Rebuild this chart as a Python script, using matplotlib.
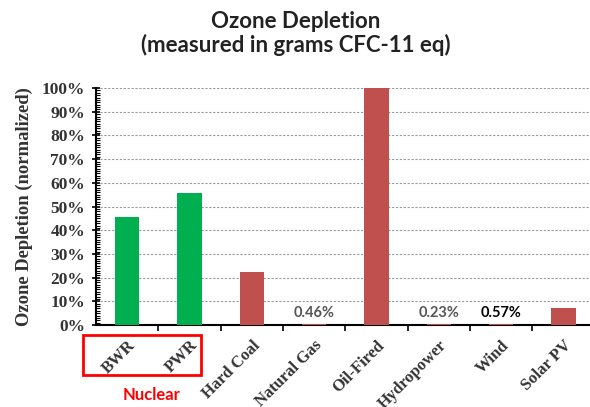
import numpy as np
import matplotlib
matplotlib.use("Agg")
import matplotlib.pyplot as plt
from matplotlib.ticker import MultipleLocator, FixedLocator, PercentFormatter
from matplotlib.patches import Rectangle

# values
categories = ["BWR", "PWR", "Hard Coal", "Natural Gas", "Oil-Fired",
              "Hydropower", "Wind", "Solar PV"]
values = [45.7, 55.8, 22.2, 0.46, 100.0, 0.23, 0.57, 7.0]
is_nuclear = [True, True, False, False, False, False, False, False]
small_labels = {"Natural Gas": "0.46%", "Hydropower": "0.23%", "Wind": "0.57%"}

green = "#00B050"
red = "#C0504D"
serif = "Liberation Serif"
sans = "Lato"

fig = plt.figure(figsize=(5.9, 4.07), dpi=100)
ax = fig.add_axes([0.163, 0.2015, 0.845, 0.582])

x = np.arange(len(categories))
colors = [green if n else red for n in is_nuclear]
ax.bar(x, values, width=0.39, color=colors, zorder=3)

ax.set_xlim(-0.5, len(categories) - 0.5)
ax.set_ylim(0, 100)

# y axis
ax.yaxis.set_major_locator(MultipleLocator(10))
ax.yaxis.set_minor_locator(MultipleLocator(1))
ax.yaxis.set_major_formatter(PercentFormatter(decimals=0))
ax.tick_params(axis="y", which="major", direction="inout", length=6, width=1.2,
               pad=5)
ax.tick_params(axis="y", which="minor", direction="in", length=3, width=0.8)
for lab in ax.get_yticklabels():
    lab.set_fontfamily(serif)
    lab.set_fontweight("bold")
    lab.set_fontsize(12.5)
    lab.set_color("#333333")

# gridlines
for v in range(10, 101, 10):
    ax.axhline(v, color="#999999", linestyle=(0, (2, 1.5)), linewidth=0.8, zorder=1)

# x axis: labels at centers, tick marks at category boundaries
ax.set_xticks(x)
ax.set_xticklabels(categories, rotation=45, ha="right", rotation_mode="anchor",
                   fontfamily=serif, fontweight="bold", fontsize=12, color="#333333")
ax.tick_params(axis="x", which="major", length=0, pad=9)
ax.xaxis.set_minor_locator(FixedLocator(np.arange(0.5, len(categories) - 0.5, 1)))
ax.tick_params(axis="x", which="minor", direction="out", length=4, width=1.2)

for side in ["top", "right"]:
    ax.spines[side].set_visible(False)
ax.spines["left"].set_linewidth(1.5)
ax.spines["bottom"].set_linewidth(1.5)

ax.set_ylabel("Ozone Depletion (normalized)", fontfamily=serif, fontweight="bold",
              fontsize=13.4, color="#333333", labelpad=6)

# small value labels
for i, c in enumerate(categories):
    if c in small_labels:
        bold = c == "Wind"
        ax.text(i, 5, small_labels[c], ha="center", va="center",
                fontfamily=sans, fontsize=10.5, fontweight="bold",
                color="black" if bold else "#555555", zorder=4)

fig.text(0.502, 1 - 22 / 407, "Ozone Depletion", ha="center", va="center",
         fontfamily=sans, fontweight="bold", fontsize=16, color="#222222")
fig.text(0.502, 1 - 45 / 407, "(measured in grams CFC-11 eq)", ha="center", va="center",
         fontfamily=sans, fontweight="bold", fontsize=16, color="#222222")

# red box around the nuclear labels
fig.add_artist(Rectangle((83 / 590, 1 - 375 / 407), 118 / 590, 40 / 407,
                         transform=fig.transFigure, fill=False,
                         edgecolor="#FF0000", linewidth=2))
fig.text(152 / 590, 1 - 395 / 407, "Nuclear", ha="center", va="center",
         fontfamily=sans, fontweight="bold", fontsize=12, color="#FF0000")

fig.savefig("out.png", dpi=100)
